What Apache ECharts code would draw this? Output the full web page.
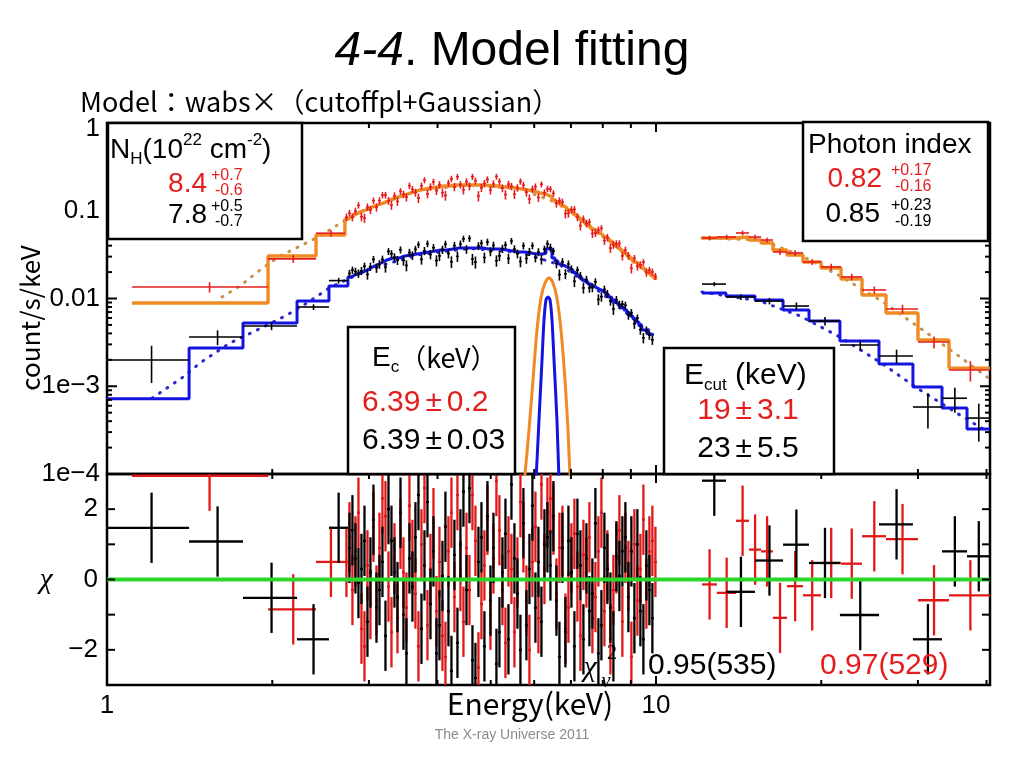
<!DOCTYPE html>
<html><head><meta charset="utf-8">
<script src="https://cdn.jsdelivr.net/npm/echarts@6/dist/echarts.min.js"></script>
<style>html,body{margin:0;padding:0;background:#fff}#c{width:1024px;height:768px}</style>
</head><body><div id="c"></div><script>
// ---------- axis ranges / ticks ----------
const X_MIN = 1, X_MAX = 40.59;
const xMajorTicks = [1, 10];
const xMinorTicks = [2, 3, 4, 5, 6, 7, 8, 9, 20, 30, 40];
const yMajorTicks = [1e-4, 1e-3, 1e-2, 1e-1, 1];
const yTickText = ['1e\u22124', '1e\u22123', '0.01', '0.1', '1'];
const yMinorTicks = [];
[1e-4, 1e-3, 1e-2, 1e-1].forEach(d => { for (let m = 2; m <= 9; m++) yMinorTicks.push(+(m * d).toPrecision(3)); });
const residTicks = [-2, -1, 0, 1, 2];
const residLabels = [-2, 0, 2];

// ---------- fine energy grid of the low-energy instrument (bin edges, keV) ----------
const midEdges = [2.713, 2.747, 2.782, 2.817, 2.853, 2.889, 2.926, 2.963, 3.000, 3.038, 3.077, 3.116, 3.155, 3.195, 3.236, 3.277, 3.318, 3.360, 3.403, 3.446, 3.489, 3.533, 3.578, 3.623, 3.669, 3.716, 3.763, 3.811, 3.859, 3.908, 3.957, 4.007, 4.058, 4.109, 4.161, 4.214, 4.267, 4.321, 4.376, 4.431, 4.488, 4.545, 4.602, 4.660, 4.719, 4.779, 4.839, 4.900, 4.963, 5.026, 5.089, 5.153, 5.219, 5.285, 5.352, 5.420, 5.488, 5.557, 5.628, 5.699, 5.771, 5.844, 5.918, 5.993, 6.069, 6.146, 6.224, 6.303, 6.382, 6.463, 6.545, 6.628, 6.712, 6.797, 6.883, 6.970, 7.058, 7.147, 7.238, 7.330, 7.422, 7.516, 7.611, 7.707, 7.805, 7.904, 8.004, 8.105, 8.208, 8.312, 8.417, 8.523, 8.631, 8.740, 8.851, 8.963, 9.077, 9.192, 9.308, 9.426, 9.545, 9.666, 9.788, 9.912, 10.04];

// ---------- red spectrum (orange model) : low-energy part ----------
const redEdgesLo = [1.110, 1.965, 2.403].concat(midEdges);
const redRateLo = [0.0135, 0.0283, 0.0555,
  0.0845, 0.0939, 0.0845, 0.0994, 0.1152, 0.0855, 0.0826, 0.1104, 0.1026, 0.1303,
  0.1093, 0.1303, 0.1508, 0.1506, 0.1299, 0.1158, 0.1482, 0.1278, 0.1664, 0.1543,
  0.1428, 0.1929, 0.1751, 0.1613, 0.1396, 0.1922, 0.2230, 0.1560, 0.1870, 0.2134,
  0.1696, 0.1983, 0.1608, 0.1493, 0.2067, 0.2309, 0.1867, 0.2437, 0.1985, 0.1729,
  0.2142, 0.1906, 0.2437, 0.2181, 0.1474, 0.1827, 0.2044, 0.2270, 0.1723, 0.2029,
  0.2450, 0.2153, 0.1808, 0.1528, 0.2013, 0.1895, 0.1544, 0.1829, 0.2159, 0.1957,
  0.1621, 0.1362, 0.1764, 0.1883, 0.1419, 0.1998, 0.1599, 0.1778, 0.1765, 0.1576,
  0.1208, 0.1304, 0.1258, 0.0926, 0.0938, 0.1027, 0.1037, 0.0845, 0.0676, 0.0809,
  0.0720, 0.0743, 0.0551, 0.0560, 0.0603, 0.0631, 0.0457, 0.0496, 0.0375, 0.0411,
  0.0420, 0.0424, 0.0306, 0.0356, 0.0308, 0.0221, 0.0287, 0.0233, 0.0242, 0.0259,
  0.0198, 0.0210, 0.0201, 0.0179];
const redErrLo = [0.0018, 0.0028, 0.005,
  0.0081, 0.0084, 0.0087, 0.0092, 0.0097, 0.0099, 0.0102, 0.0106, 0.0110, 0.0113,
  0.0116, 0.0120, 0.0123, 0.0128, 0.0133, 0.0136, 0.0140, 0.0144, 0.0147, 0.0151,
  0.0155, 0.0159, 0.0164, 0.0168, 0.0172, 0.0175, 0.0177, 0.0179, 0.0182, 0.0184,
  0.0186, 0.0189, 0.0191, 0.0191, 0.0191, 0.0194, 0.0197, 0.0197, 0.0197, 0.0197,
  0.0197, 0.0197, 0.0197, 0.0197, 0.0197, 0.0197, 0.0197, 0.0194, 0.0191, 0.0191,
  0.0191, 0.0189, 0.0186, 0.0186, 0.0186, 0.0184, 0.0182, 0.0179, 0.0177, 0.0175,
  0.0172, 0.0170, 0.0168, 0.0164, 0.0159, 0.0157, 0.0155, 0.0149, 0.0144, 0.0135,
  0.0126, 0.0120, 0.0113, 0.0108, 0.0102, 0.0097, 0.0092, 0.0086, 0.0081, 0.0076,
  0.0071, 0.0066, 0.0062, 0.0059, 0.0056, 0.0053, 0.0050, 0.0048, 0.0045, 0.0042,
  0.0040, 0.0037, 0.0035, 0.0033, 0.0031, 0.0028, 0.0026, 0.0025, 0.0024, 0.0022,
  0.0021, 0.0019, 0.0018, 0.0017];
const redModelLo = [0.00888, 0.0305, 0.0529,
  0.0805, 0.0838, 0.0871, 0.0920, 0.0968, 0.0994, 0.1020, 0.1062, 0.1103, 0.1133,
  0.1163, 0.1195, 0.1226, 0.1276, 0.1326, 0.1362, 0.1398, 0.1436, 0.1473, 0.1513,
  0.1552, 0.1594, 0.1636, 0.1680, 0.1724, 0.1747, 0.1770, 0.1793, 0.1816, 0.1840,
  0.1864, 0.1889, 0.1914, 0.1914, 0.1914, 0.1940, 0.1965, 0.1965, 0.1965, 0.1965,
  0.1965, 0.1965, 0.1965, 0.1965, 0.1965, 0.1965, 0.1965, 0.1940, 0.1914, 0.1914,
  0.1914, 0.1889, 0.1864, 0.1864, 0.1864, 0.1840, 0.1816, 0.1793, 0.1770, 0.1747,
  0.1724, 0.1702, 0.1680, 0.1637, 0.1594, 0.1573, 0.1552, 0.1494, 0.1435, 0.1347,
  0.1258, 0.1196, 0.1133, 0.1077, 0.1020, 0.0969, 0.0918, 0.0862, 0.0805, 0.0756,
  0.0706, 0.0663, 0.0619, 0.0589, 0.0558, 0.0530, 0.0502, 0.0477, 0.0452, 0.0424,
  0.0396, 0.0372, 0.0348, 0.0327, 0.0305, 0.0283, 0.0261, 0.0248, 0.0235, 0.0221,
  0.0206, 0.0194, 0.0181, 0.0170];
const redResidLo = [2.95, -0.85, 0.5,
  0.5, 1.2, -0.3, 0.8, 1.9, -1.4, -1.9, 0.4, -0.7, 1.5,
  -0.6, 0.9, 2.3, 1.8, -0.2, -1.5, 0.6, -1.1, 1.3, 0.2,
  -0.8, 2.1, 0.7, -0.4, -1.9, 1.0, 2.6, -1.3, 0.3, 1.6,
  -0.9, 0.5, -1.6, -2.2, 0.8, 1.9, -0.5, 2.4, 0.1, -1.2,
  0.9, -0.3, 2.4, 1.1, -2.5, -0.7, 0.4, 1.7, -1.0, 0.6,
  2.8, 1.4, -0.3, -1.8, 0.8, 0.3, -1.5, 0.2, 2.2, 1.2,
  -0.6, -2.0, 0.5, 1.5, -1.1, 2.7, 0.3, 1.9, 2.3, 1.7,
  -0.4, 0.9, 1.1, -1.4, -0.8, 0.6, 1.3, -0.2, -1.6, 0.7,
  0.2, 1.2, -1.1, -0.5, 0.8, 1.9, -0.9, 0.4, -1.7, -0.3,
  0.6, 1.4, -1.2, 0.9, 0.1, -2.2, 1.0, -0.6, 0.3, 1.7,
  -0.4, 0.8, 1.1, 0.5];

// ---------- red spectrum : high-energy part ----------
const redEdgesHi = [12.13, 12.91, 13.99, 14.77, 15.54, 16.33, 17.32, 18.53, 19.98, 21.73, 23.73, 26.24, 30.01, 34.18, 40.59];
const redRateHi = [0.0489, 0.0502, 0.0558, 0.0502, 0.0464, 0.0339, 0.0330, 0.0261, 0.0229, 0.0176, 0.0125, 0.00759, 0.00319, 0.00153];
const redErrHi = [0.003, 0.003, 0.0035, 0.003, 0.003, 0.0025, 0.0025, 0.002, 0.002, 0.0015, 0.0012, 0.0009, 0.0005, 0.0004];
const redModelHi = [0.0489, 0.0489, 0.0502, 0.0464, 0.0429, 0.0357, 0.0313, 0.0261, 0.0223, 0.0167, 0.01096, 0.00684, 0.00336, 0.00161];
const redResidHi = [-0.14, -0.38, 1.67, 0.85, 0.8, -1.09, -0.19, -0.45, 0.47, 0.45, 1.23, 1.15, -0.59, -0.45];

// ---------- black spectrum (blue model) : low-energy part ----------
const blackEdgesLo = [1.000, 1.411, 1.769, 2.219, 2.537].concat(midEdges.slice(1, 104));
const blackRateLo = [0.00199, 0.00364, 0.00486, 0.0080, 0.0160,
  0.0193, 0.0211, 0.0203, 0.0193, 0.0207, 0.0233, 0.0188, 0.0231, 0.0279, 0.0223,
  0.0246, 0.0279, 0.0227, 0.0344, 0.0324, 0.0295, 0.0273, 0.0359, 0.0271, 0.0238,
  0.0334, 0.0310, 0.0363, 0.0411, 0.0279, 0.0349, 0.0421, 0.0317, 0.0379, 0.0271,
  0.0306, 0.0361, 0.0416, 0.0326, 0.0262, 0.0400, 0.0302, 0.0417, 0.0479, 0.0364,
  0.0484, 0.0281, 0.0260, 0.0397, 0.0426, 0.0293, 0.0440, 0.0343, 0.0403, 0.0270,
  0.0306, 0.0370, 0.0408, 0.0286, 0.0451, 0.0366, 0.0324, 0.0264, 0.0399, 0.0286,
  0.0341, 0.0400, 0.0293, 0.0339, 0.0279, 0.0364, 0.0419, 0.0381, 0.0347, 0.0250,
  0.0187, 0.0262, 0.0191, 0.0247, 0.0216, 0.0157, 0.0211, 0.0181, 0.0132, 0.0164,
  0.0132, 0.0133, 0.0155, 0.00977, 0.0105, 0.0127, 0.01132, 0.00939, 0.0076, 0.00968,
  0.00852, 0.00861, 0.00837, 0.00648, 0.00688, 0.00515, 0.00599, 0.00441, 0.00356, 0.00434,
  0.00381, 0.00338];
const blackErrLo = [0.0009, 0.0007, 0.0005, 0.0006, 0.0012,
  0.0019, 0.0020, 0.0021, 0.0021, 0.0022, 0.0023, 0.0024, 0.0025, 0.0026, 0.0027,
  0.0028, 0.0029, 0.0030, 0.0031, 0.0032, 0.0032, 0.0032, 0.0033, 0.0034, 0.0034,
  0.0034, 0.0035, 0.0035, 0.0036, 0.0036, 0.0037, 0.0037, 0.0038, 0.0038, 0.0039,
  0.0039, 0.0039, 0.0039, 0.0040, 0.0040, 0.0041, 0.0041, 0.0041, 0.0041, 0.0041,
  0.0041, 0.0041, 0.0041, 0.0041, 0.0041, 0.0041, 0.0040, 0.0040, 0.0040, 0.0040,
  0.0040, 0.0040, 0.0039, 0.0039, 0.0038, 0.0038, 0.0037, 0.0037, 0.0037, 0.0037,
  0.0036, 0.0036, 0.0035, 0.0035, 0.0035, 0.0036, 0.0041, 0.0040, 0.0032, 0.0029,
  0.0027, 0.0026, 0.0025, 0.0024, 0.0023, 0.0022, 0.0020, 0.0019, 0.0018, 0.0017,
  0.0016, 0.0015, 0.0015, 0.0014, 0.0013, 0.0013, 0.0012, 0.0011, 0.0011, 0.0010,
  0.00093, 0.00087, 0.00081, 0.00075, 0.00070, 0.00064, 0.00059, 0.00054, 0.00048, 0.00046,
  0.00043, 0.00042];
const blackModelLo = [0.00072, 0.00273, 0.00526, 0.00936, 0.0139,
  0.0176, 0.0183, 0.0190, 0.0195, 0.0200, 0.0208, 0.0217, 0.0226, 0.0235, 0.0244,
  0.0254, 0.0264, 0.0275, 0.0282, 0.0289, 0.0289, 0.0289, 0.0297, 0.0305, 0.0309,
  0.0313, 0.0317, 0.0321, 0.0325, 0.0330, 0.0334, 0.0339, 0.0343, 0.0348, 0.0352,
  0.0357, 0.0357, 0.0357, 0.0362, 0.0367, 0.0371, 0.0376, 0.0376, 0.0376, 0.0376,
  0.0376, 0.0376, 0.0376, 0.0376, 0.0376, 0.0371, 0.0367, 0.0367, 0.0367, 0.0367,
  0.0367, 0.0362, 0.0357, 0.0352, 0.0348, 0.0343, 0.0339, 0.0339, 0.0339, 0.0334,
  0.0330, 0.0325, 0.0321, 0.0321, 0.0322, 0.0328, 0.0370, 0.0365, 0.0290, 0.0268,
  0.0247, 0.0238, 0.0229, 0.0220, 0.0211, 0.0198, 0.0185, 0.0173, 0.0162, 0.0154,
  0.0146, 0.0139, 0.0132, 0.0127, 0.0122, 0.0116, 0.01096, 0.0103, 0.00961, 0.00902,
  0.00843, 0.00791, 0.00739, 0.00686, 0.00632, 0.00586, 0.00540, 0.00489, 0.00438, 0.00416,
  0.00394, 0.00385];
const blackResidLo = [1.47, 1.08, -0.52, -1.7, 1.47,
  0.9, 1.4, 0.6, -0.1, 0.3, 1.1, -1.2, 0.2, 1.7, -0.8,
  -0.3, 0.5, -1.6, 2.0, 1.1, 0.2, -0.5, 1.9, -1.0, -2.1,
  0.6, -0.2, 1.2, 2.4, -1.4, 0.4, 2.2, -0.7, 0.8, -2.1,
  -1.3, 0.1, 1.5, -0.9, -2.6, 0.7, -1.8, 1.0, 2.5, -0.3,
  2.6, -2.3, -2.8, 0.5, 1.2, -1.9, 1.8, -0.6, 0.9, -2.4,
  -1.5, 0.2, 1.3, -1.7, 2.7, 0.6, -0.4, -2.0, 1.6, -1.3,
  0.3, 2.1, -0.8, 0.5, -1.2, 1.0, 1.2, 0.4, 1.8, -0.6,
  -2.2, 0.9, -1.5, 1.1, 0.2, -1.9, 1.3, 0.4, -1.7, 0.6,
  -0.9, -0.4, 1.6, -2.1, -1.3, 0.9, 0.3, -0.8, -1.9, 0.66,
  0.1, 0.8, 1.2, -0.5, 0.8, -1.1, 1.0, -0.9, -1.7, 0.4,
  -0.3, -1.1];

// ---------- black spectrum : high-energy part ----------
const blackEdgesHi = [12.13, 13.41, 15.15, 17.04, 19.00, 21.63, 25.48, 29.38, 33.19, 36.86, 40.59];
const blackRateHi = [0.0146, 0.0104, 0.00936, 0.00821, 0.00554, 0.00295, 0.00221, 0.00058, 0.00073, 0.000434];
const blackErrHi = [0.0008, 0.0008, 0.0008, 0.0008, 0.0006, 0.0004, 0.0004, 0.00025, 0.00023, 0.0002];
const blackModelHi = [0.01156, 0.01068, 0.00961, 0.00739, 0.00554, 0.00328, 0.00179, 0.00098, 0.000565, 0.000326];
const blackResidHi = [2.81, -0.35, 0.54, 0.99, 0.47, -1.01, 1.57, -1.7, 0.80, 0.66];

// ---------- continuum (dotted) model curves ----------
const orangeContLoE = [1.62, 1.747, 1.900, 2.066, 2.247, 2.443, 2.771, 3.144, 3.716, 4.584, 5.653, 6.686, 7.907, 9.351, 9.959];
const orangeContLoV = [0.0104, 0.0139, 0.0211, 0.0305, 0.0396, 0.0515, 0.0849, 0.1194, 0.1724, 0.1965, 0.1770, 0.1194, 0.0558, 0.0235, 0.0176];
const orangeContHiE = [12.13, 15.47, 18.30, 21.63, 25.59, 30.26, 35.79, 40.25];
const orangeContHiV = [0.0489, 0.0464, 0.0313, 0.0181, 0.00961, 0.00461, 0.00216, 0.00125];
const blueContLoE = [1.208, 1.375, 1.477, 1.675, 1.845, 2.128, 2.314, 2.55, 3.013, 3.716, 4.584, 5.653, 6.686, 7.907, 9.351, 9.875];
const blueContLoV = [0.00073, 0.00127, 0.00184, 0.00311, 0.00415, 0.00648, 0.00888, 0.0134, 0.0218, 0.0318, 0.0372, 0.0336, 0.0241, 0.01186, 0.00512, 0.00404];
const blueContHiE = [12.13, 15.47, 18.30, 21.63, 25.59, 30.26, 35.79, 40.25];
const blueContHiV = [0.01186, 0.00936, 0.00632, 0.00364, 0.00188, 0.000907, 0.00047, 0.000301];

// ---------- Gaussian (Fe line) components ----------
const orangeLineE = [5.70, 5.773, 5.870, 5.970, 6.071, 6.173, 6.279, 6.384, 6.492, 6.601, 6.713, 6.827, 6.914, 6.972, 7.05];
const orangeLineV = [0.00005, 0.0001, 0.000317, 0.00118, 0.00438, 0.01013, 0.0150, 0.0171, 0.0150, 0.01013, 0.00438, 0.00118, 0.000317, 0.0001, 0.00005];
const blueLineE = [6.00, 6.046, 6.122, 6.200, 6.252, 6.304, 6.357, 6.412, 6.465, 6.520, 6.601, 6.658, 6.70];
const blueLineV = [0.00004, 0.000085, 0.000412, 0.00199, 0.00569, 0.00961, 0.0104, 0.00961, 0.00569, 0.00199, 0.000412, 0.000085, 0.00004];

const RESID_SIGMA = 1;

// ---------- helpers ----------
function bins(edges, vals, errs) { return vals.map((v, i) => [edges[i], edges[i + 1], v, errs[i]]); }
function residBins(edges, res) { return res.map((r, i) => [edges[i], edges[i + 1], r, RESID_SIGMA]); }
function stepPts(edges, model) {
  const out = [];
  model.forEach((m, i) => { out.push([edges[i], m]); out.push([edges[i + 1], m]); });
  return out;
}
function pairs(xs, ys) { return xs.map((x, i) => [x, ys[i]]); }

function crossRenderer(color, width, isLog) {
  return function (params, api) {
    const cs = params.coordSys;
    const lo = api.value(0), hi = api.value(1), y = api.value(2), e = api.value(3);
    const xc = (lo + hi) / 2;
    const X0 = cs.x, X1 = cs.x + cs.width, Y0 = cs.y, Y1 = cs.y + cs.height;
    const a = api.coord([lo, y]), b = api.coord([hi, y]);
    const yl = isLog ? Math.max(y - e, y * 1e-3) : y - e;
    const c = api.coord([xc, y + e]), d = api.coord([xc, yl]);
    const ch = [];
    const st = { stroke: color, lineWidth: width };
    if (a[1] >= Y0 && a[1] <= Y1) {
      const xa = Math.max(a[0], X0), xb = Math.min(b[0], X1);
      if (xb > xa) ch.push({ type: 'line', shape: { x1: xa, y1: a[1], x2: xb, y2: a[1] }, style: st });
    }
    if (c[0] >= X0 && c[0] <= X1) {
      const ya = Math.max(c[1], Y0), yb = Math.min(d[1], Y1);
      if (yb > ya) ch.push({ type: 'line', shape: { x1: c[0], y1: ya, x2: c[0], y2: yb }, style: st });
    }
    return { type: 'group', children: ch };
  };
}
// inward tick marks on all four sides of a panel, placed through the axis scales
function xTickRenderer(refY) {
  return function (params, api) {
    const cs = params.coordSys;
    const x = api.coord([api.value(0), refY])[0];
    const len = api.value(1);
    const st = { stroke: '#000', lineWidth: 2 };
    return { type: 'group', children: [
      { type: 'line', shape: { x1: x, y1: cs.y, x2: x, y2: cs.y + len }, style: st },
      { type: 'line', shape: { x1: x, y1: cs.y + cs.height - len, x2: x, y2: cs.y + cs.height }, style: st }
    ] };
  };
}
function yTickRenderer() {
  return function (params, api) {
    const cs = params.coordSys;
    const y = api.coord([X_MIN, api.value(2)])[1];
    const len = api.value(1);
    const st = { stroke: '#000', lineWidth: 2 };
    return { type: 'group', children: [
      { type: 'line', shape: { x1: cs.x, y1: y, x2: cs.x + len, y2: y }, style: st },
      { type: 'line', shape: { x1: cs.x + cs.width - len, y1: y, x2: cs.x + cs.width, y2: y }, style: st }
    ] };
  };
}

// ---------- colours / fonts ----------
const RED = '#e41e1e', ORANGE = '#f08a24', ORANGE_DOT = '#c8904a', BLUE = '#1414e0', BLUE_DOT = '#2a2acc', GREEN = '#2ad62a', BLACK = '#000';
const LATIN = 'Liberation Sans, Arial, sans-serif';
const CJK = 'Noto Sans CJK JP, sans-serif';
const SERIF = 'Liberation Serif, serif';

// ---------- axes ----------
const hidden = { axisLine: { show: false }, axisTick: { show: false }, splitLine: { show: false } };
const xAxes = [
  Object.assign({ type: 'log', logBase: 10, gridIndex: 0, min: X_MIN, max: X_MAX, axisLabel: { show: false } }, hidden),
  Object.assign({ type: 'log', logBase: 10, gridIndex: 1, min: X_MIN, max: X_MAX,
    axisLabel: { show: true, customValues: xMajorTicks, fontSize: 26, fontFamily: LATIN, color: '#000', margin: 8,
      formatter: v => String(Math.round(v)) } }, hidden)
];
const yAxes = [
  Object.assign({ type: 'log', logBase: 10, gridIndex: 0, min: 1e-4, max: 1,
    axisLabel: { show: true, customValues: yMajorTicks, fontSize: 26, fontFamily: LATIN, color: '#000', margin: 7,
      formatter: function (v) {
        const k = Math.round(Math.log10(v)) + 4;
        return k === 4 ? '{t|' + yTickText[k] + '}' : yTickText[k];
      },
      rich: { t: { fontSize: 26, fontFamily: LATIN, padding: [12, 0, 0, 0] } } } }, hidden),
  Object.assign({ type: 'value', gridIndex: 1, min: -3, max: 3,
    axisLabel: { show: true, customValues: residLabels, fontSize: 26, fontFamily: LATIN, color: '#000', margin: 9,
      formatter: v => (v < 0 ? '\u2212' + Math.abs(v) : String(v)) } }, hidden)
];

// ---------- series ----------
function lineS(data, color, width, z, extra) {
  return Object.assign({ type: 'line', xAxisIndex: 0, yAxisIndex: 0, data: data, showSymbol: false, symbol: 'none',
    lineStyle: { color: color, width: width }, z: z, silent: true, animation: false }, extra || {});
}
function customS(xi, yi, render, data, z, enc) {
  return { type: 'custom', xAxisIndex: xi, yAxisIndex: yi, renderItem: render, encode: enc || { x: [0, 1], y: 2 },
    data: data, z: z, silent: true, animation: false, clip: false };
}
const dotted = { type: [1, 8], cap: 'round' };
const xTickItems = (refY) => xMajorTicks.map(v => [v, 9, refY]).concat(xMinorTicks.map(v => [v, 5, refY]));
const yTickItemsTop = yMajorTicks.map(v => [X_MIN, 10, v]).concat(yMinorTicks.map(v => [X_MIN, 5, v]));
const yTickItemsRes = residTicks.map(v => [X_MIN, 8, v]);

const series = [
  lineS(pairs(orangeContLoE, orangeContLoV), ORANGE_DOT, 3, 2, { lineStyle: Object.assign({ color: ORANGE_DOT, width: 3 }, dotted) }),
  lineS(pairs(orangeContHiE, orangeContHiV), ORANGE_DOT, 3, 2, { lineStyle: Object.assign({ color: ORANGE_DOT, width: 3 }, dotted) }),
  lineS(pairs(blueContLoE, blueContLoV), BLUE_DOT, 3, 2, { lineStyle: Object.assign({ color: BLUE_DOT, width: 3 }, dotted) }),
  lineS(pairs(blueContHiE, blueContHiV), BLUE_DOT, 3, 2, { lineStyle: Object.assign({ color: BLUE_DOT, width: 3 }, dotted) }),
  lineS(pairs(orangeLineE, orangeLineV), ORANGE, 3, 3, { smooth: 0.3 }),
  lineS(pairs(blueLineE, blueLineV), BLUE, 3, 3, { smooth: 0.3 }),
  lineS(stepPts(redEdgesLo, redModelLo), ORANGE, 3.4, 4),
  lineS(stepPts(redEdgesHi, redModelHi), ORANGE, 3.4, 4),
  lineS(stepPts(blackEdgesLo, blackModelLo), BLUE, 3, 4),
  lineS(stepPts(blackEdgesHi, blackModelHi), BLUE, 3, 4),
  customS(0, 0, crossRenderer(RED, 1.6, true), bins(redEdgesLo, redRateLo, redErrLo).concat(bins(redEdgesHi, redRateHi, redErrHi)), 6),
  customS(0, 0, crossRenderer(BLACK, 1.6, true), bins(blackEdgesLo, blackRateLo, blackErrLo).concat(bins(blackEdgesHi, blackRateHi, blackErrHi)), 7),
  // residual panel
  customS(1, 1, crossRenderer('#e01818', 2.3, false), residBins(redEdgesLo, redResidLo).concat(residBins(redEdgesHi, redResidHi)), 6),
  customS(1, 1, crossRenderer(BLACK, 2.3, false), residBins(blackEdgesLo, blackResidLo).concat(residBins(blackEdgesHi, blackResidHi)), 7),
  lineS([[X_MIN, 0], [X_MAX, 0]], GREEN, 4, 9, { xAxisIndex: 1, yAxisIndex: 1 }),
  // tick marks
  customS(0, 0, xTickRenderer(0.01), xTickItems(0.01), 20, { x: 0, y: 2 }),
  customS(0, 0, yTickRenderer(), yTickItemsTop, 20, { x: 0, y: 2 }),
  customS(1, 1, xTickRenderer(0), xTickItems(0), 20, { x: 0, y: 2 }),
  customS(1, 1, yTickRenderer(), yTickItemsRes, 20, { x: 0, y: 2 })
];

// ---------- annotation graphics ----------
function txt(x, y, text, size, color, align, extra) {
  return Object.assign({ type: 'text', x: x, y: y, z: 100, silent: true,
    style: Object.assign({ text: text, fontSize: size, fontFamily: LATIN, fill: color || '#000',
      textAlign: align || 'left', textVerticalAlign: 'middle', align: align || 'left', verticalAlign: 'middle' }, extra || {}) });
}
function box(x, y, w, h) {
  return { type: 'rect', z: 95, silent: true, shape: { x: x, y: y, width: w, height: h }, style: { fill: '#fff', stroke: '#000', lineWidth: 2.5 } };
}
const richSub = {
  n: { fontSize: 28, fontFamily: LATIN, lineHeight: 36 },
  m: { fontSize: 30, fontFamily: LATIN, lineHeight: 36 },
  nc: { fontSize: 27, fontFamily: CJK, lineHeight: 36 },
  s: { fontSize: 17, fontFamily: LATIN, verticalAlign: 'bottom', lineHeight: 17 },
  p: { fontSize: 17, fontFamily: LATIN, verticalAlign: 'top', lineHeight: 17 },
  pm: { fontSize: 30, fontFamily: LATIN, padding: [0, 5, 0, 5] }
};
const elements = [
  txt(512, 52, '{i|4-4}{n|. Model fitting}', 48, '#000', 'center', { rich: {
    i: { fontSize: 48, fontStyle: 'italic', fontFamily: LATIN }, n: { fontSize: 48, fontFamily: LATIN } } }),
  txt(80, 102, 'Model\uff1awabs\u00d7\uff08cutoffpl+Gaussian\uff09', 27, '#000', 'left', { fontFamily: CJK }),
  Object.assign(txt(30, 318, 'count/s/keV', 26, '#000', 'center', { fontFamily: CJK }), { rotation: Math.PI / 2 }),
  txt(46, 580, '\u03c7', 30, '#000', 'center', { fontFamily: SERIF, fontStyle: 'italic' }),
  txt(530, 704, 'Energy(keV)', 30, '#000', 'center', { fontFamily: CJK }),
  txt(512, 735, 'The X-ray Universe 2011', 14, '#8a8a8a', 'center'),
  // chi2 nu
  txt(590, 668, '\u03c7', 30, '#000', 'center', { fontFamily: SERIF, fontStyle: 'italic' }),
  txt(612, 654, '2', 20, '#000', 'center', { fontFamily: SERIF }),
  txt(606, 682, '\u03bd', 20, '#000', 'center', { fontFamily: SERIF, fontStyle: 'italic' }),
  txt(648, 666, '0.95(535)', 30, '#000', 'left'),
  txt(820, 666, '0.97(529)', 30, RED, 'left'),
  // NH box
  box(108, 123, 194, 116),
  txt(110, 150, '{n|N}{s|H}{n|(10}{p|22}{n| cm}{p|-2}{n|)}', 28, '#000', 'left', { rich: richSub }),
  txt(207, 184, '8.4', 28, RED, 'right'),
  txt(211, 176, '+0.7', 16, RED, 'left'),
  txt(215, 191, '-0.6', 16, RED, 'left'),
  txt(207, 215, '7.8', 28, '#000', 'right'),
  txt(211, 207, '+0.5', 16, '#000', 'left'),
  txt(215, 222, '-0.7', 16, '#000', 'left'),
  // Photon index box
  box(803, 122, 185, 119),
  txt(808, 145, 'Photon index', 28, '#000', 'left'),
  txt(882, 179, '0.82', 28, RED, 'right'),
  txt(891, 171, '+0.17', 16, RED, 'left'),
  txt(895, 187, '-0.16', 16, RED, 'left'),
  txt(880, 214, '0.85', 28, '#000', 'right'),
  txt(891, 206, '+0.23', 16, '#000', 'left'),
  txt(895, 222, '-0.19', 16, '#000', 'left'),
  // Ec box
  box(348, 327, 167, 147),
  txt(372, 358, '{n|E}{s|c}{nc|\uff08keV\uff09}', 28, '#000', 'left', { rich: richSub }),
  txt(362, 403, '{m|6.39}{pm|\u00b1}{m|0.2}', 30, RED, 'left', { rich: richSub }),
  txt(362, 441, '{m|6.39}{pm|\u00b1}{m|0.03}', 30, '#000', 'left', { rich: richSub }),
  // Ecut box
  box(664, 348, 170, 126),
  txt(684, 376, '{m|E}{s|cut}{m| (keV)}', 30, '#000', 'left', { rich: richSub }),
  txt(748, 411, '{m|19}{pm|\u00b1}{m|3.1}', 30, RED, 'center', { rich: richSub }),
  txt(748, 449, '{m|23}{pm|\u00b1}{m|5.5}', 30, '#000', 'center', { rich: richSub })
];

const chart = echarts.init(document.getElementById('c'), null, { renderer: 'canvas' });
chart.setOption({
  animation: false,
  backgroundColor: '#fff',
  grid: [
    { left: 107, top: 123, width: 883, height: 351, show: true, borderColor: '#000', borderWidth: 2.5, backgroundColor: 'rgba(0,0,0,0)' },
    { left: 107, top: 474, width: 883, height: 211, show: true, borderColor: '#000', borderWidth: 2.5, backgroundColor: 'rgba(0,0,0,0)' }
  ],
  xAxis: xAxes,
  yAxis: yAxes,
  series: series,
  graphic: { elements: elements }
});
</script></body></html>
